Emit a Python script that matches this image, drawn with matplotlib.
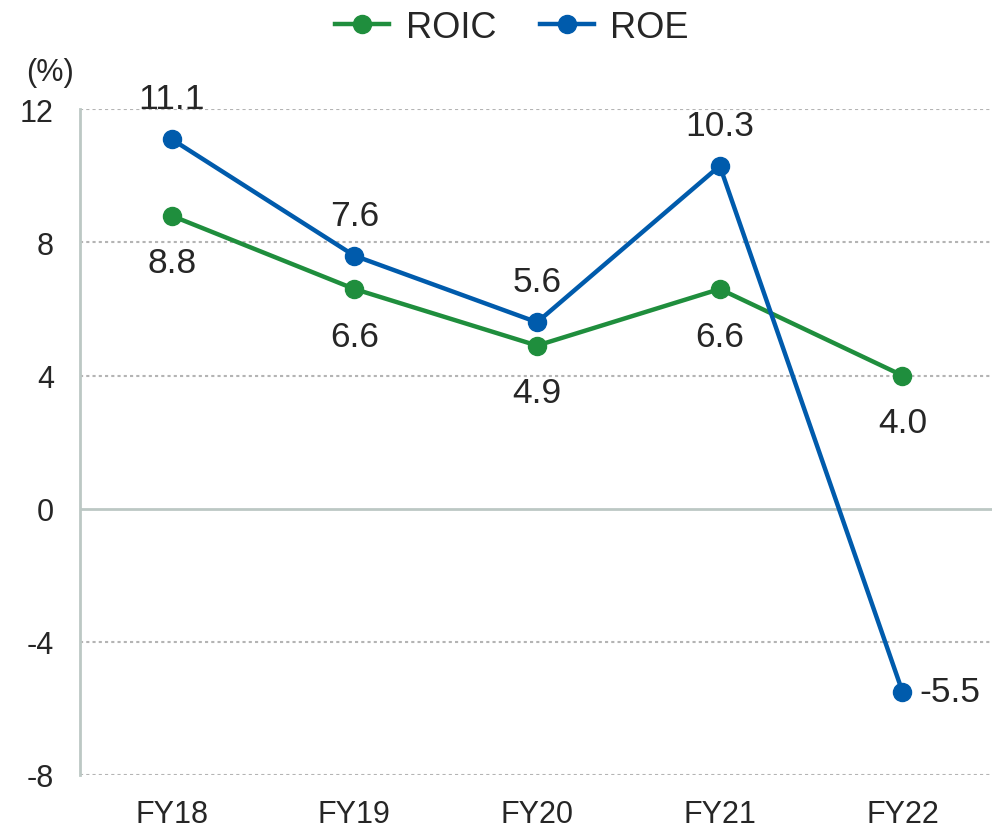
import numpy as np
import matplotlib.pyplot as plt

plt.rcParams['font.family'] = ['Liberation Sans', 'DejaVu Sans']

years = ['FY18', 'FY19', 'FY20', 'FY21', 'FY22']
roic = [8.8, 6.6, 4.9, 6.6, 4.0]
roe = [11.1, 7.6, 5.6, 10.3, -5.5]
yticks = [12, 8, 4, 0, -4, -8]

green = '#1f8e3d'
blue = '#005bac'
axis_col = '#bcc8c4'
txt = '#262626'

fig = plt.figure(figsize=(9.92, 8.29), dpi=100)
ax = fig.add_axes([0.081, 0.064, 0.919, 0.803])
x = np.arange(len(years))

ax.plot(x, roic, color=green, lw=3.2, marker='o', ms=13, label='ROIC', zorder=3)
ax.plot(x, roe, color=blue, lw=3.2, marker='o', ms=13, label='ROE', zorder=4)

for xi, v in zip(x, roic):
    ax.annotate(f'{v:.1f}', (xi, v), xytext=(0, -34), textcoords='offset points',
                ha='center', va='center', fontsize=25.5, color=txt)
for xi, v in zip(x, roe):
    if v < 0:
        ax.annotate(f'{v:.1f}', (xi, v), xytext=(34, 0), textcoords='offset points',
                    ha='center', va='center', fontsize=25.5, color=txt)
    else:
        ax.annotate(f'{v:.1f}', (xi, v), xytext=(0, 29), textcoords='offset points',
                    ha='center', va='center', fontsize=25.5, color=txt)

ax.set_xlim(-0.5, 4.49)
ax.set_ylim(-8, 12)
ax.set_xticks(x)
ax.set_xticklabels(years, fontsize=22, color=txt)
ax.set_yticks(yticks)
ax.set_yticklabels([str(t) for t in yticks], fontsize=22, color=txt)
ax.tick_params(axis='y', length=0, pad=19)
ax.tick_params(axis='x', length=0, pad=17)

for t in yticks:
    if t == 0:
        ax.axhline(0, color=axis_col, lw=2, zorder=1)
    else:
        ax.axhline(t, color='#b4b4b4', lw=1.5, ls=(0, (1.5, 1.5)), zorder=1)

for s in ['top', 'right', 'bottom']:
    ax.spines[s].set_visible(False)
ax.spines['left'].set_color(axis_col)
ax.spines['left'].set_linewidth(2)

fig.text(0.05, 0.912, '(%)', fontsize=22, color=txt, ha='center', va='center')

fig.legend(loc='center', bbox_to_anchor=(0.516, 0.966), ncol=2, frameon=False,
           fontsize=26, handlelength=1.5, columnspacing=1.2, handletextpad=0.45,
           labelcolor=txt, borderpad=0)

fig.savefig('out.png', dpi=100)
